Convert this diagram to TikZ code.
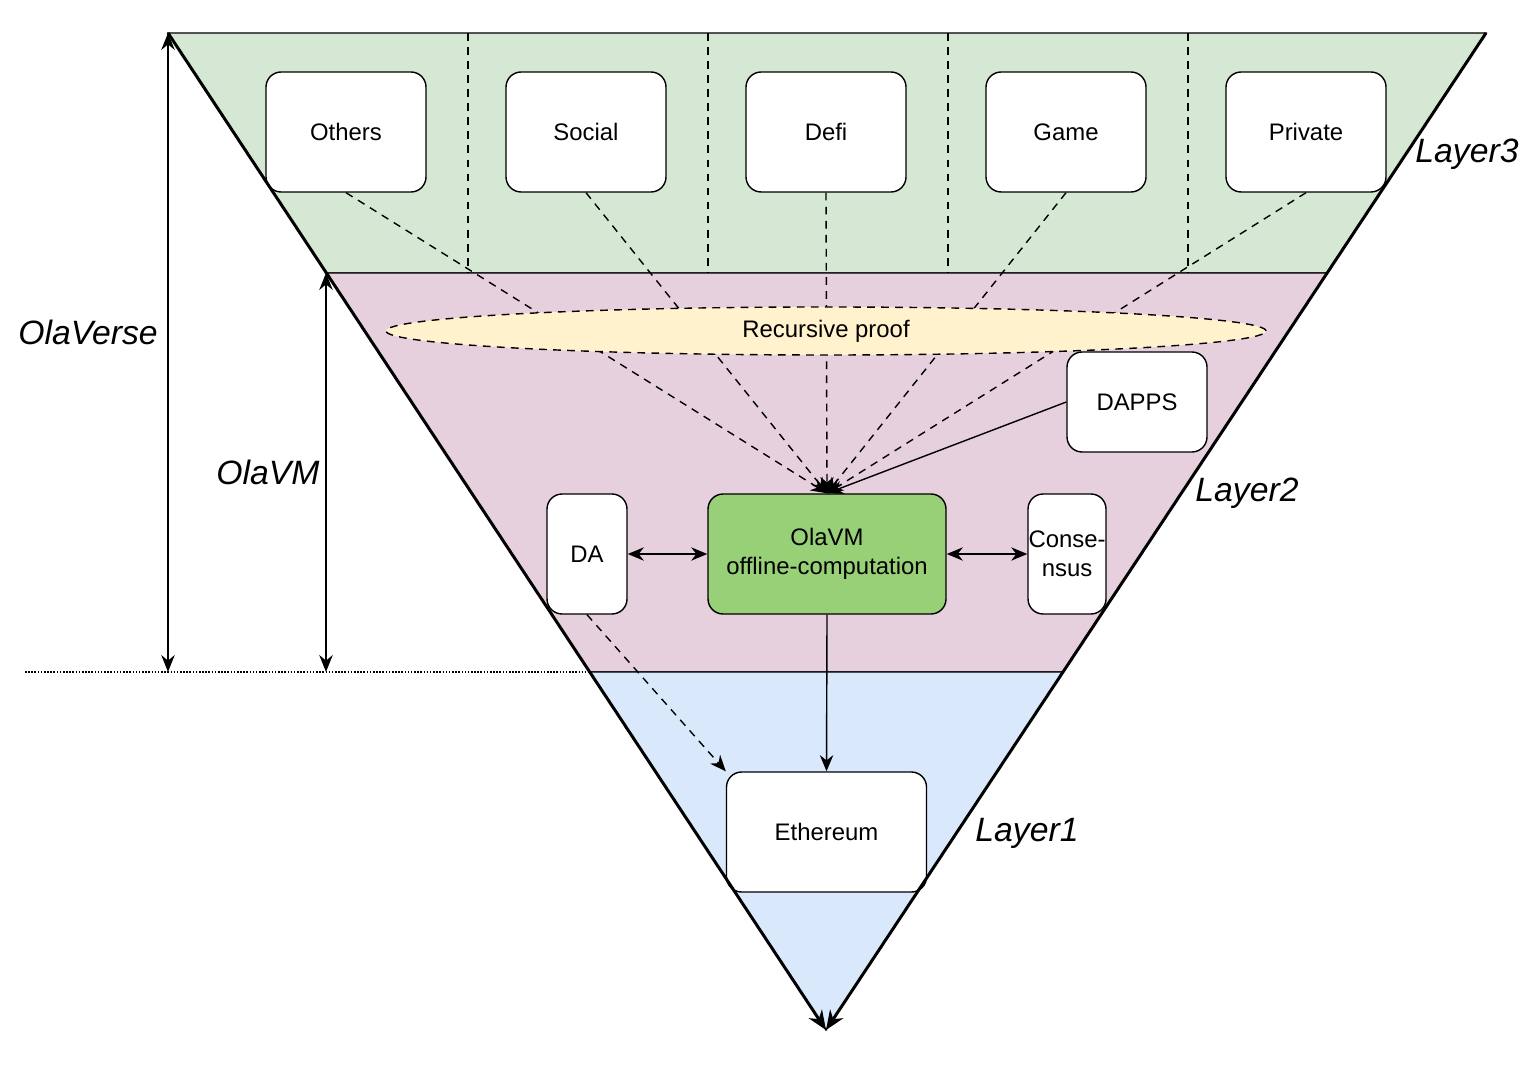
\documentclass[tikz,border=0pt]{standalone}
\usepackage{fontspec}
\setmainfont{Liberation Sans}
\usetikzlibrary{shapes.geometric,arrows.meta}

\definecolor{layerthree}{HTML}{D5E8D4}
\definecolor{layertwo}{HTML}{E6D0DE}
\definecolor{layerone}{HTML}{DAE8FC}
\definecolor{proofcol}{HTML}{FFF2CC}
\definecolor{vmcol}{HTML}{97D077}

\newcommand{\boxfont}{\fontsize{6.8pt}{8.4pt}\selectfont}
\newcommand{\tagfont}{\fontsize{9.6pt}{11pt}\selectfont\itshape}

\tikzset{
    app/.style={draw, rounded corners=4.3pt, fill=white, align=center, inner sep=0pt, font=\boxfont},
    tag/.style={font=\tagfont, inner sep=0pt},
    tip/.style={-{Stealth[length=4.6pt,width=3.8pt]}},
    twotip/.style={{Stealth[length=4.6pt,width=3.8pt]}-{Stealth[length=4.6pt,width=3.8pt]}},
    dashline/.style={dash pattern=on 2.2pt off 1.8pt},
}

\begin{document}
\begin{tikzpicture}[line width=0.4pt]
        \useasboundingbox (0,0) rectangle (15.34,-10.66);

        % corners of the funnel
        \coordinate (tl) at (1.68,-0.33);
        \coordinate (tr) at (14.86,-0.33);
        \coordinate (apex) at (8.26,-10.30);
        \coordinate (l3l) at (3.264,-2.73);
        \coordinate (l3r) at (13.271,-2.73);
        \coordinate (l2l) at (5.898,-6.72);
        \coordinate (l2r) at (10.629,-6.72);

        % layers
        \filldraw[fill=layerthree] (tl) -- (tr) -- (l3r) -- (l3l) -- cycle;
        \filldraw[fill=layertwo] (l3l) -- (l3r) -- (l2r) -- (l2l) -- cycle;
        \filldraw[fill=layerone] (l2l) -- (l2r) -- (apex) -- cycle;

        \foreach \x in {4.68,7.08,9.48,11.88}
            \draw[dashline] (\x,-0.33) -- (\x,-2.73);

        \begin{scope}[every node/.style={app, minimum width=1.6cm, minimum height=1.2cm}]
            \node (others) at (3.46,-1.32) {Others};
            \node (social) at (5.86,-1.32) {Social};
            \node (defi) at (8.26,-1.32) {Defi};
            \node (game) at (10.66,-1.32) {Game};
            \node (private) at (13.06,-1.32) {Private};

            \node[minimum width=1.4cm, minimum height=1.0cm] (dapps) at (11.37,-4.02) {DAPPS};
            \node[fill=vmcol, minimum width=2.38cm] (vm) at (8.27,-5.54) {OlaVM\\offline-computation};
            \node[minimum width=0.8cm] (da) at (5.87,-5.54) {DA};
            \node[minimum width=0.78cm] (cons) at (10.67,-5.54) {Conse-\\nsus};
            \node[minimum width=2.0cm] (eth) at (8.265,-8.32) {Ethereum};
        \end{scope}

        \begin{scope}[every edge/.style={draw}]
            \path [dashline] (others.south) edge[tip] (vm.north);
            \path [dashline] (social.south) edge[tip] (vm.north);
            \path [dashline] (defi.south) edge[tip] (vm.north);
            \path [dashline] (game.south) edge[tip] (vm.north);
            \path [dashline] (private.south) edge[tip] (vm.north);
            \path (dapps.west) edge[tip] (vm.north);

            \path (da.east) edge[twotip] (vm.west);
            \path (vm.east) edge[twotip] (cons.west);
            \path (vm.south) edge[tip] (eth.north);
            \path [dashline] (da.south) edge[tip] (eth.north west);
        \end{scope}

        \node[ellipse, draw, dashline, fill=proofcol, minimum width=8.8cm, minimum height=0.48cm,
              inner sep=0pt, font=\boxfont] (proof) at (8.26,-3.31) {Recursive proof};

        % funnel sides
        \draw[line width=0.85pt, -{Stealth[length=5.5pt,width=4.5pt]}] (tl) -- (apex);
        \draw[line width=0.85pt, -{Stealth[length=5.5pt,width=4.5pt]}] (tr) -- (apex);

        % heights
        \coordinate (ovb) at (1.68,-6.72);
        \coordinate (vmt) at (3.26,-2.73);
        \coordinate (vmb) at (3.26,-6.72);
        \coordinate (dl) at (0.25,-6.72);
        \draw[line width=0.6pt, {Stealth[length=4.8pt,width=3.8pt]}-{Stealth[length=4.8pt,width=3.8pt]}] (tl) -- (ovb);
        \draw[line width=0.6pt, {Stealth[length=4.8pt,width=3.8pt]}-{Stealth[length=4.8pt,width=3.8pt]}] (vmt) -- (vmb);
        \draw[dash pattern=on 0.45pt off 0.45pt, line width=0.4pt] (dl) -- (l2l);

        \node[tag] (olaverse) at (0.88,-3.32) {OlaVerse};
        \node[tag] (olavm) at (2.68,-4.72) {OlaVM};
        \node[tag] (layer3) at (14.67,-1.54) {Layer3};
        \node[tag] (layer2) at (12.47,-4.93) {Layer2};
        \node[tag] (layer1) at (10.27,-8.33) {Layer1};
\end{tikzpicture}
\end{document}
